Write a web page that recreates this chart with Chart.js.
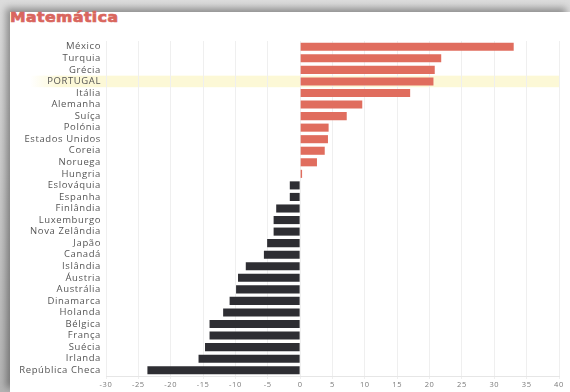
<!DOCTYPE html>
<html lang="pt">
<head>
<meta charset="utf-8">
<title>Matemática</title>
<script src="https://cdn.jsdelivr.net/npm/chart.js@4.4.1/dist/chart.umd.min.js"></script>
<style>
    html, body {
        margin: 0;
        padding: 0;
        width: 570px;
        height: 392px;
        overflow: hidden;
        background: linear-gradient(#dcdcdc, #b4b4b4);
    }
    .panel {
        position: absolute;
        left: 10px;
        top: 12px;
        right: 0;
        bottom: 0;
        background: #fff;
        box-shadow: -4px -4px 7px rgba(0, 0, 0, 0.35);
    }
    .title {
        position: absolute;
        left: 10px;
        top: 9px;
        font-family: "DejaVu Sans", sans-serif;
        font-weight: bold;
        font-size: 14px;
        letter-spacing: 0.4px;
        color: #d9665e;
        -webkit-text-stroke: 0.7px #d9665e;
        transform: scaleX(1.12);
        transform-origin: left center;
    }
    #chart {
        position: absolute;
        left: 0;
        top: 0;
    }
</style>
</head>
<body>
<div class="panel"></div>
<div class="title">Matemática</div>
<canvas id="chart" width="570" height="392"></canvas>

<script>
    // Countries, top to bottom
    const countries = [
        'México', 'Turquia', 'Grécia', 'PORTUGAL', 'Itália', 'Alemanha', 'Suíça',
        'Polónia', 'Estados Unidos', 'Coreia', 'Noruega', 'Hungria', 'Eslováquia',
        'Espanha', 'Finlândia', 'Luxemburgo', 'Nova Zelândia', 'Japão', 'Canadá',
        'Islândia', 'Áustria', 'Austrália', 'Dinamarca', 'Holanda', 'Bélgica',
        'França', 'Suécia', 'Irlanda', 'República Checa'
    ];

    // Difference per country
    const values = [
        33.0, 21.8, 20.8, 20.6, 17.0, 9.6, 7.2,
        4.4, 4.3, 3.8, 2.6, 0.3, -1.6,
        -1.6, -3.7, -4.1, -4.1, -5.1, -5.6,
        -8.4, -9.6, -9.9, -10.9, -11.9, -14.0,
        -14.0, -14.7, -15.7, -23.6
    ];

    // Axis range and step
    const axisMin = -30;
    const axisMax = 40;
    const axisStep = 5;

    const highlighted = 'PORTUGAL';

    const POSITIVE = '#e06d5e';
    const NEGATIVE = '#2e2e33';

    // Pale band behind the highlighted row, drawn before the scales.
    // Also widens the letter spacing used for all axis labels.
    const rowHighlight = {
        id: 'rowHighlight',
        beforeDraw: function(chart) {
            const ctx = chart.ctx;
            ctx.letterSpacing = '0.6px';

            const idx = countries.indexOf(highlighted);
            if (idx < 0) return;
            const y = chart.scales.y;
            const area = chart.chartArea;
            const step = (y.bottom - y.top) / countries.length;
            const cy = y.getPixelForValue(idx);
            ctx.save();
            const grad = ctx.createLinearGradient(30, 0, 60, 0);
            grad.addColorStop(0, 'rgba(252, 248, 214, 0)');
            grad.addColorStop(1, 'rgba(252, 248, 214, 1)');
            ctx.fillStyle = grad;
            ctx.fillRect(30, cy - step / 2, area.right - 30, step);
            ctx.restore();
        }
    };

    const ctx = document.getElementById('chart');

    new Chart(ctx, {
        type: 'bar',
        data: {
            labels: countries,
            datasets: [{
                data: values,
                backgroundColor: values.map(v => v >= 0 ? POSITIVE : NEGATIVE),
                borderWidth: 0,
                barPercentage: 0.7,
                categoryPercentage: 1.0
            }]
        },
        options: {
            indexAxis: 'y',
            responsive: false,
            animation: false,
            layout: {
                padding: { top: 41, right: 11, bottom: 0, left: 0 }
            },
            plugins: {
                legend: { display: false },
                tooltip: { enabled: false }
            },
            scales: {
                x: {
                    min: axisMin,
                    max: axisMax,
                    afterFit: function(scale) {
                        scale.height = 16;
                    },
                    ticks: {
                        stepSize: axisStep,
                        padding: 1,
                        color: '#7a7a7a',
                        font: { family: 'Open Sans', size: 7.5 }
                    },
                    grid: {
                        color: '#efefef',
                        lineWidth: 1,
                        drawTicks: true,
                        tickLength: 3
                    },
                    border: { display: true, color: '#e6e6e6' }
                },
                y: {
                    afterFit: function(scale) {
                        scale.width = 106;
                    },
                    ticks: {
                        autoSkip: false,
                        padding: 5,
                        color: '#555',
                        font: { family: 'Open Sans', size: 9.5 }
                    },
                    grid: { display: false, drawTicks: false },
                    border: { display: false }
                }
            }
        },
        plugins: [rowHighlight]
    });
</script>
</body>
</html>
